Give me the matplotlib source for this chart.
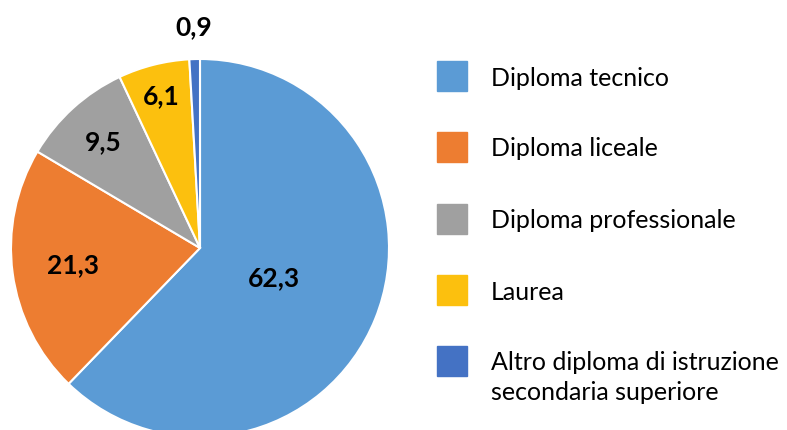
import numpy as np
import matplotlib
matplotlib.use("Agg")
import matplotlib.pyplot as plt
from matplotlib.patches import Rectangle

# data
categorie = ['Diploma tecnico', 'Diploma liceale', 'Diploma professionale',
             'Laurea', 'Altro diploma di istruzione\nsecondaria superiore']
valori = [62.3, 21.3, 9.5, 6.1, 0.9]
etichette = ['62,3', '21,3', '9,5', '6,1', '0,9']
colori = ['#5B9BD5', '#ED7D31', '#A0A0A0', '#FCC00E', '#4472C4']
# radial position of each value label (fraction of radius)
dist = [0.42, 0.68, 0.76, 0.83, 1.17]

plt.rcParams['font.family'] = ['Lato', 'DejaVu Sans']

W, H = 787, 430
fig = plt.figure(figsize=(W/100, H/100), dpi=100)

# pie axes: centre (200,248) px from top-left, radius 189 px
cx, cy, r = 200, 248, 189
ax = fig.add_axes([(cx-r)/W, (H-cy-r)/H, 2*r/W, 2*r/H])
wedges, _ = ax.pie(valori, colors=colori, startangle=90, counterclock=False,
                   radius=1, wedgeprops=dict(edgecolor='white', linewidth=1.5))
ax.set_xlim(-1, 1)
ax.set_ylim(-1, 1)
ax.set_aspect('equal')
ax.axis('off')

for w, lab, d in zip(wedges, etichette, dist):
    ang = np.deg2rad((w.theta1 + w.theta2) / 2)
    ax.text(d*np.cos(ang), d*np.sin(ang), lab, ha='center', va='center',
            fontsize=19, fontweight='bold', color='black')

# legend, drawn by hand
ys = [76, 147, 219, 290, 361]
for cat, col, y in zip(categorie, colori, ys):
    fig.patches.append(Rectangle((437/W, (H-y-15)/H), 30/W, 30/H,
                                 transform=fig.transFigure, color=col))
    for i, riga in enumerate(cat.split('\n')):
        fig.text(491/W, (H-y-i*30-2)/H, riga, ha='left', va='center',
                 fontsize=18, color='black')

plt.savefig('out.png', dpi=100)
